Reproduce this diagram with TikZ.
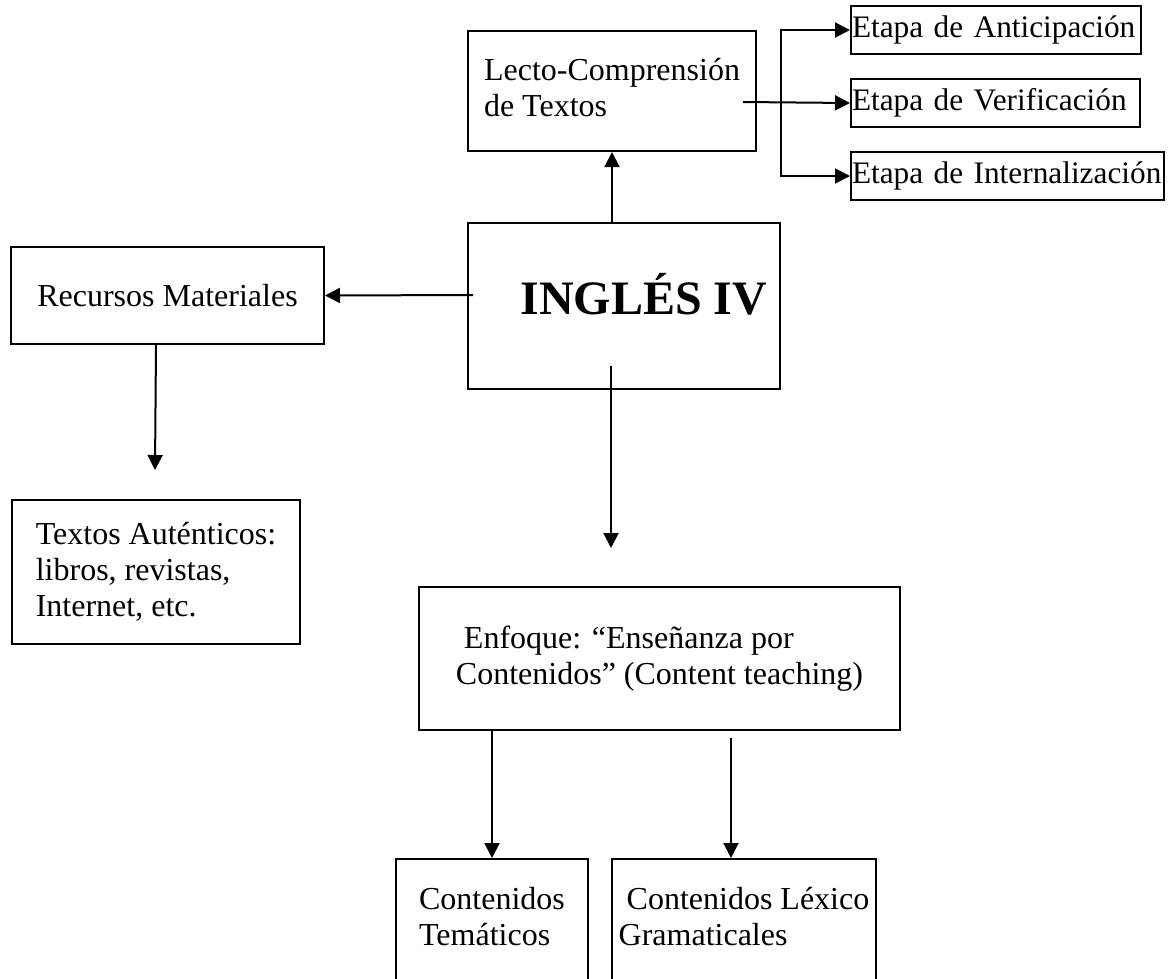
\documentclass[tikz,border=0pt]{standalone}
\usepackage{fontspec}
\setmainfont{Liberation Serif}
\usetikzlibrary{arrows.meta}
\begin{document}
\begin{tikzpicture}[x=1pt,y=-1pt,
        caja/.style={draw, line width=2pt, inner sep=0pt, align=left, anchor=north west,
            font=\fontsize{32}{36}\selectfont},
        etapa/.style={caja, inner xsep=1pt, text width=#1, minimum height=48pt, font=\fontsize{31.3}{36}\selectfont},
        flecha/.style={line width=2pt, -{Triangle[length=15pt,width=15pt]}},
        horquilla/.style={line width=2pt, {Triangle[length=15pt,width=15pt]}-{Triangle[length=15pt,width=15pt]}}]
                \useasboundingbox (0,0) rectangle (1168,978);
                \clip (0,0) rectangle (1168,978);
                \node[caja, minimum width=288pt, minimum height=120pt, text depth=8pt] (lecto) at (467,30) {Lecto-Comprensión\\de Textos};
                \node[etapa=288pt] (antic) at (850,5) {\mbox{Etapa de Anticipación}};
                \node[etapa=287pt] (verif) at (850,78) {\mbox{Etapa de Verificación}};
                \node[etapa=311pt] (intern) at (850,151) {\mbox{Etapa de Internalización}};
                \node[caja, minimum width=312pt, minimum height=166pt, text depth=24pt, font=\fontsize{48}{54}\selectfont\bfseries] (ingles) at (467,222) {\hspace*{40pt}INGLÉS IV};
                \node[caja, minimum width=313pt, minimum height=97pt] (recursos) at (10,246) {Recursos Materiales};
                \node[caja, minimum width=288pt, minimum height=144pt] (textos) at (11,499) {Textos Auténticos:\\libros, revistas,\\Internet, etc.};
                \node[caja, minimum width=481pt, minimum height=143pt] (enfoque) at (418,586) {\hspace*{8pt}Enfoque: “Enseñanza por\\Contenidos” (Content teaching)};
                \node[caja, minimum width=192pt, inner ysep=28pt, text depth=200pt] (tema) at (395,858) {Contenidos\\Temáticos};
                \node[caja, minimum width=264pt, inner ysep=28pt, text depth=200pt] (lexico) at (611,858) {\hspace*{8pt}Contenidos Léxico\\Gramaticales};
                \coordinate (rx) at (473,295);
                \coordinate (tx) at (155,470);
                \coordinate (ix) at (611,366);
                \coordinate (ex) at (611,548);
                \coordinate (lc) at (743,102);
                \coordinate (lx) at (731,738);
                \draw[flecha] (lecto.south |- ingles.north) -- (lecto.south);
                \draw[flecha] (lc) -- (verif.west);
                \draw[horquilla] (antic.west) -| (ingles.east |- verif.west) |- (intern.west);
                \draw[flecha] (rx) -- (recursos.east);
                \draw[flecha] (textos.north |- recursos.south) -- (tx);
                \draw[flecha] (ix) -- (ex);
                \draw[flecha] (enfoque.south -| tema.north) -- (tema.north);
                \draw[flecha] (lx) -- (lx |- lexico.north);
            \end{tikzpicture}
\end{document}
